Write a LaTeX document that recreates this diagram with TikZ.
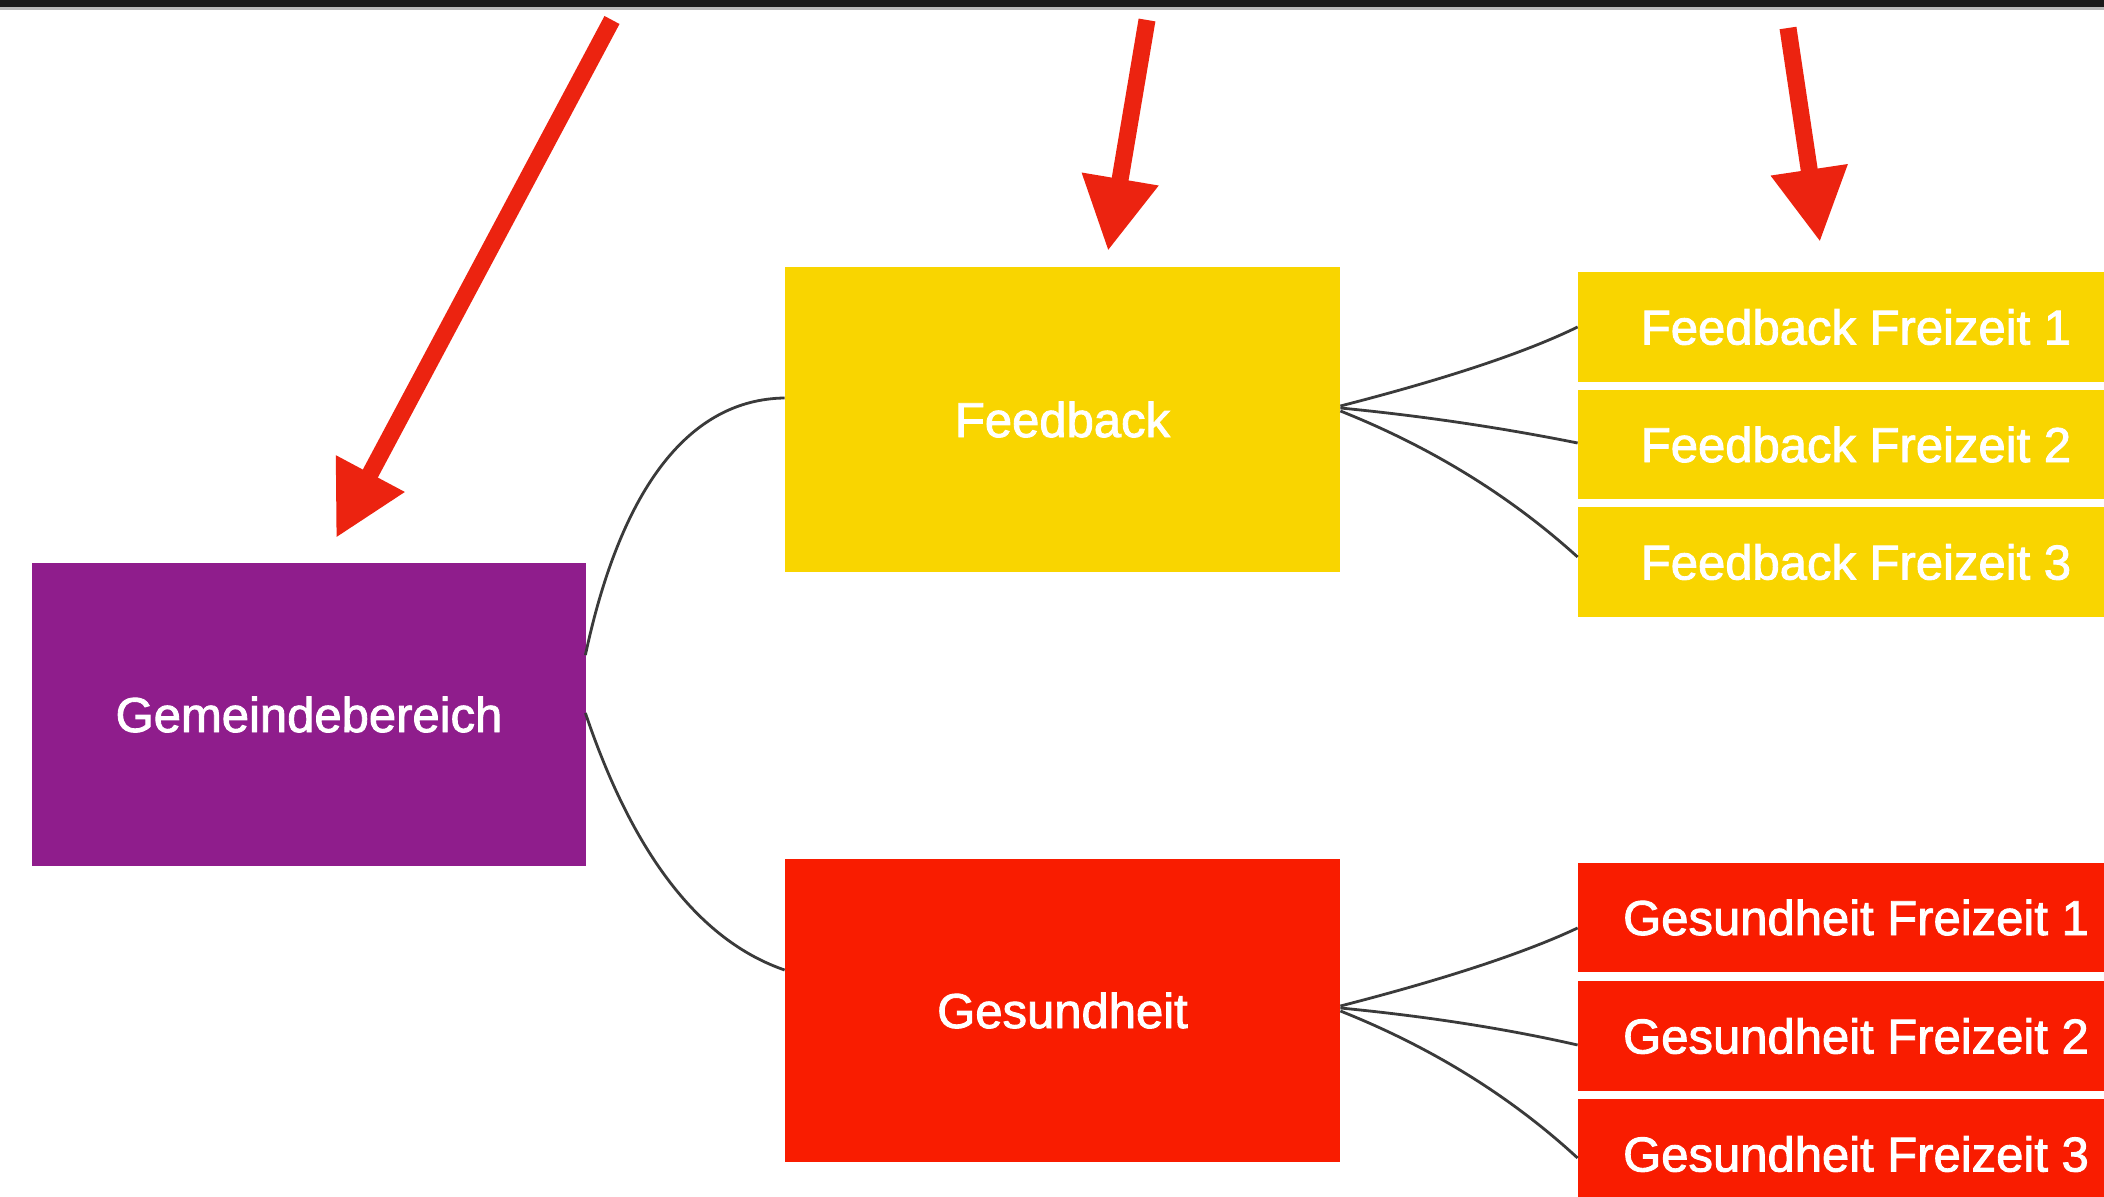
\documentclass[tikz,border=0pt]{standalone}
\usepackage{fontspec}
\setmainfont{Liberation Sans}
\newfontfamily\boxfont{Liberation Sans}[FakeBold=1.8]
\usetikzlibrary{arrows.meta,calc}
\definecolor{gpurple}{HTML}{8F1D8C}
\definecolor{gyellow}{HTML}{F9D500}
\definecolor{gred}{HTML}{F91C00}
\definecolor{arrowred}{HTML}{EC2310}
\definecolor{linegray}{HTML}{3A3A3A}
\definecolor{topbar}{HTML}{1A1A1A}
\tikzset{
  bigbox/.style={rectangle, inner sep=0pt, minimum width=277.5pt, minimum height=152pt, text=white, font=\boxfont\fontsize{24.5pt}{29pt}\selectfont},
  childbox/.style={rectangle, inner sep=0pt, minimum width=278pt, minimum height=55pt, text=white, font=\boxfont\fontsize{24.5pt}{29pt}\selectfont},
  link/.style={draw=linegray, line width=1.4pt},
  callout/.style={draw=arrowred, line width=8.5pt, -{Triangle[length=36.5pt,width=36.5pt]}}
}
\begin{document}
\begin{tikzpicture}[x=0.5pt,y=-0.5pt]
\useasboundingbox (0,0) rectangle (2104,1197);
\clip (0,0) rectangle (2104,1197);
\fill[white] (0,0) rectangle (2104,1197);
% top bar
\fill[topbar] (0,0) rectangle (2104,7);
\fill[gray!55] (0,7) rectangle (2104,10);

% main boxes
\node[bigbox, fill=gpurple, minimum width=277pt, minimum height=151.5pt] (gem) at (309,714.5) {Gemeindebereich};
\node[bigbox, fill=gyellow, minimum height=152.5pt] (fb) at (1062.5,419.5) {Feedback};
\node[bigbox, fill=gred, minimum height=151.5pt] (gh) at (1062.5,1010.5) {Gesundheit};

% children
\node[childbox, fill=gyellow] (fc1) at (1856,327) {Feedback Freizeit 1};
\node[childbox, fill=gyellow, minimum height=54.5pt] (fc2) at (1856,444.5) {Feedback Freizeit 2};
\node[childbox, fill=gyellow] (fc3) at (1856,562) {Feedback Freizeit 3};
\node[childbox, fill=gred, minimum height=54.5pt] (gc1) at (1856,917.5) {Gesundheit Freizeit 1};
\node[childbox, fill=gred] (gc2) at (1856,1036) {Gesundheit Freizeit 2};
\node[childbox, fill=gred] (gc3) at (1856,1154) {Gesundheit Freizeit 3};

% connectors
\draw[link] ($(gem.east)+(-1,-59.5)$) .. controls (621.7,485) and (690.7,399.3) .. ($(fb.west)+(0,-21.5)$);
\draw[link] ($(gem.east)+(-1,-1.5)$) .. controls (633.3,855) and (699.7,940.7) .. ($(gh.west)+(0,-40.5)$);

\draw[link] ($(fb.east)+(0,-13.5)$) .. controls (1446.7,378.7) and (1526,352.3) .. (fc1.west);
\draw[link] ($(fb.east)+(0,-11.5)$) .. controls (1423.3,416) and (1502.7,428) .. ($(fc2.west)+(0,-1.5)$);
\draw[link] ($(fb.east)+(0,-8.5)$) .. controls (1430.7,447) and (1510,495.7) .. ($(fc3.west)+(0,-5)$);

\draw[link] ($(gh.east)+(0,-4.5)$) .. controls (1446.7,978.7) and (1526,952.3) .. ($(gc1.west)+(0,10.5)$);
\draw[link] ($(gh.east)+(0,-2.5)$) .. controls (1423.3,1016) and (1502.7,1028) .. ($(gc2.west)+(0,9)$);
\draw[link] ($(gh.east)+(0,0.5)$) .. controls (1430.7,1047) and (1510,1095.7) .. ($(gc3.west)+(0,4)$);

% red callout arrows
\coordinate (a1s) at (612,20);
\coordinate (a1e) at (336,538);
\coordinate (a2s) at (1147,20);
\coordinate (a2e) at (1108,251);
\coordinate (a3s) at (1788,28);
\coordinate (a3e) at (1820,242);
\draw[callout] (a1s) -- (a1e);
\draw[callout] (a2s) -- (a2e);
\draw[callout] (a3s) -- (a3e);
\end{tikzpicture}
\end{document}
